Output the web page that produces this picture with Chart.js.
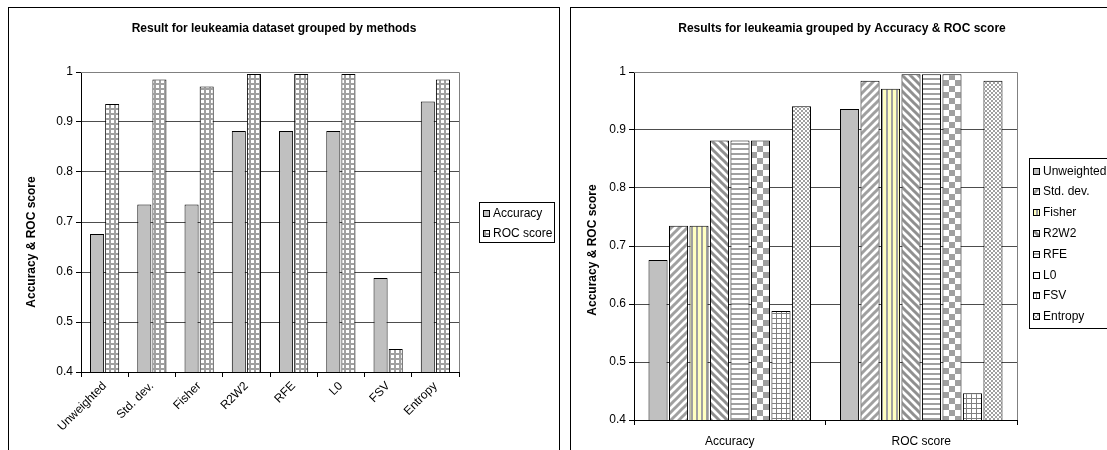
<!DOCTYPE html>
<html>
<head>
<meta charset="utf-8">
<title>Leukeamia results</title>
<script src="https://cdn.jsdelivr.net/npm/chart.js@4.4.0/dist/chart.umd.min.js"></script>
<style>
  body { margin: 0; background: #fff; width: 1107px; height: 450px; overflow: hidden; position: relative; }
  .frame { position: absolute; top: 7px; height: 470px; border: 1px solid #000; background: #fff; overflow: hidden; }
  #leftFrame { left: 8px; width: 550px; }
  #rightFrame { left: 570px; width: 560px; }
  canvas { position: absolute; top: 0; left: 0; }
</style>
</head>
<body>
<div class="frame" id="leftFrame"><canvas id="methodsChart" width="550" height="442"></canvas></div>
<div class="frame" id="rightFrame"><canvas id="measuresChart" width="540" height="442"></canvas></div>

<script>
// === Data ===
const methods = ["Unweighted", "Std. dev.", "Fisher", "R2W2", "RFE", "L0", "FSV", "Entropy"];
const measures = ["Accuracy", "ROC score"];
const accuracy = [0.676, 0.735, 0.735, 0.882, 0.882, 0.882, 0.588, 0.941];
const rocScore = [0.936, 0.985, 0.971, 0.996, 0.996, 0.996, 0.446, 0.985];
const yTicks = [0.4, 0.5, 0.6, 0.7, 0.8, 0.9, 1];
const yTitle = "Accuracy & ROC score";

const FONT = '"Liberation Sans", Arial, sans-serif';
Chart.defaults.font.family = FONT;
Chart.defaults.font.size = 12;
Chart.defaults.color = "#000";

// === Excel-like fill patterns ===
function tile(w, h, draw) {
  const c = document.createElement("canvas");
  c.width = w;
  c.height = h;
  const g = c.getContext("2d");
  draw(g, w, h);
  return g.createPattern(c, "repeat");
}

const GRAY = "#a0a0a0";
const pat = {
  solid: "#c0c0c0",
  grid: tile(5, 5, (g) => {
    g.fillStyle = "#fff"; g.fillRect(0, 0, 5, 5);
    g.fillStyle = GRAY; g.fillRect(0, 0, 5, 2); g.fillRect(0, 0, 2, 5);
  }),
  fineGrid: tile(5, 5, (g) => {
    g.fillStyle = "#fff"; g.fillRect(0, 0, 5, 5);
    g.fillStyle = "#808080"; g.fillRect(0, 0, 5, 1); g.fillRect(0, 0, 1, 5);
  }),
  diagUp: tile(8, 8, (g) => {
    g.fillStyle = "#fff"; g.fillRect(0, 0, 8, 8);
    g.strokeStyle = GRAY; g.lineWidth = 3;
    g.beginPath();
    g.moveTo(-1, 9); g.lineTo(9, -1);
    g.moveTo(-5, 5); g.lineTo(5, -5);
    g.moveTo(3, 13); g.lineTo(13, 3);
    g.stroke();
  }),
  diagDown: tile(8, 8, (g) => {
    g.fillStyle = "#fff"; g.fillRect(0, 0, 8, 8);
    g.strokeStyle = "#909090"; g.lineWidth = 3;
    g.beginPath();
    g.moveTo(-1, -1); g.lineTo(9, 9);
    g.moveTo(-5, 3); g.lineTo(5, 13);
    g.moveTo(3, -5); g.lineTo(13, 5);
    g.stroke();
  }),
  vStripe: tile(5, 5, (g) => {
    g.fillStyle = "#ffffc0"; g.fillRect(0, 0, 5, 5);
    g.fillStyle = GRAY; g.fillRect(0, 0, 2, 5);
  }),
  hStripe: tile(5, 5, (g) => {
    g.fillStyle = "#fff"; g.fillRect(0, 0, 5, 5);
    g.fillStyle = GRAY; g.fillRect(0, 0, 5, 2);
  }),
  checker: tile(12, 12, (g) => {
    g.fillStyle = "#fff"; g.fillRect(0, 0, 12, 12);
    g.fillStyle = GRAY; g.fillRect(0, 0, 6, 6); g.fillRect(6, 6, 6, 6);
  }),
  smallChecker: tile(4, 4, (g) => {
    g.fillStyle = "#fff"; g.fillRect(0, 0, 4, 4);
    g.fillStyle = GRAY; g.fillRect(0, 0, 2, 2); g.fillRect(2, 2, 2, 2);
  }),
};

const methodFills = [pat.solid, pat.diagUp, pat.vStripe, pat.diagDown, pat.hStripe, pat.checker, pat.fineGrid, pat.smallChecker];

// === Shared scale builders ===
function yScale(width) {
  return {
    min: 0.4,
    max: 1,
    afterBuildTicks: (s) => { s.ticks = yTicks.map((v) => ({ value: v })); },
    afterFit: (s) => { s.width = width; },
    ticks: { color: "#000", padding: 3, callback: (v) => String(v) },
    grid: { color: "#4d4d4d", tickColor: "#000", tickLength: 5 },
    border: { display: true, color: "#000" },
  };
}

function xScale(height, rotation, padding) {
  return {
    afterFit: (s) => { s.height = height; },
    grid: { drawOnChartArea: false, offset: true, tickLength: 5, tickColor: "#000" },
    border: { display: true, color: "#000" },
    ticks: { color: "#000", minRotation: rotation, maxRotation: rotation, padding: padding },
  };
}

// === Title, axis title, plot frame and boxed legend ===
function decor(cfg) {
  return {
    id: "decor",
    afterDraw(chart) {
      const ctx = chart.ctx;
      const a = chart.chartArea;
      ctx.save();
      ctx.strokeStyle = "#808080";
      ctx.lineWidth = 1;
      ctx.beginPath();
      ctx.moveTo(Math.round(a.left), Math.round(a.top) + 0.5);
      ctx.lineTo(Math.round(a.right) + 0.5, Math.round(a.top) + 0.5);
      ctx.lineTo(Math.round(a.right) + 0.5, Math.round(a.bottom));
      ctx.stroke();

      ctx.fillStyle = "#000";
      ctx.font = "bold 12px " + FONT;
      ctx.textAlign = "center";
      ctx.textBaseline = "middle";
      ctx.fillText(cfg.title, cfg.titleX, cfg.titleY);

      ctx.save();
      ctx.translate(cfg.yTitleX, cfg.yTitleY);
      ctx.rotate(-Math.PI / 2);
      ctx.fillText(yTitle, 0, 0);
      ctx.restore();

      const L = cfg.legend;
      ctx.fillStyle = "#fff";
      ctx.fillRect(L.x, L.y, L.w, L.h);
      ctx.strokeStyle = "#000";
      ctx.strokeRect(L.x + 0.5, L.y + 0.5, L.w, L.h);
      ctx.font = "12px " + FONT;
      ctx.textAlign = "left";
      chart.data.datasets.forEach((ds, i) => {
        const yy = Math.round(L.row0 + i * L.step);
        ctx.fillStyle = ds.backgroundColor;
        ctx.fillRect(L.x + 4, yy - 3, 7, 7);
        ctx.strokeStyle = "#000";
        ctx.strokeRect(L.x + 4.5, yy - 2.5, 6, 6);
        ctx.fillStyle = "#000";
        ctx.fillText(ds.label, L.x + 14, yy + 1);
      });
      ctx.restore();
    },
  };
}

// === Left: grouped by methods ===
new Chart(document.getElementById("methodsChart"), {
  type: "bar",
  data: {
    labels: methods,
    datasets: [
      { label: measures[0], data: accuracy, backgroundColor: pat.solid },
      { label: measures[1], data: rocScore, backgroundColor: pat.grid },
    ].map((d) => Object.assign(d, { borderColor: "#000", borderWidth: 1, borderSkipped: false })),
  },
  options: {
    responsive: false,
    animation: false,
    devicePixelRatio: 1,
    categoryPercentage: 0.64,
    barPercentage: 0.93,
    layout: { padding: { top: 64, right: 100, left: 0, bottom: 0 } },
    plugins: { legend: { display: false }, tooltip: { enabled: false } },
    scales: { x: xScale(78, 45, 2), y: yScale(72) },
  },
  plugins: [decor({
    title: "Result for leukeamia dataset grouped by methods",
    titleX: 265, titleY: 21,
    yTitleX: 23, yTitleY: 234,
    legend: { x: 470, y: 194, w: 75, h: 40, row0: 205, step: 19.5 },
  })],
});

// === Right: grouped by Accuracy & ROC score ===
new Chart(document.getElementById("measuresChart"), {
  type: "bar",
  data: {
    labels: measures,
    datasets: methods.map((m, i) => ({
      label: m,
      data: [accuracy[i], rocScore[i]],
      backgroundColor: methodFills[i],
      borderColor: "#000",
      borderWidth: 1,
      borderSkipped: false,
    })),
  },
  options: {
    responsive: false,
    animation: false,
    devicePixelRatio: 1,
    categoryPercentage: 0.856,
    barPercentage: 0.93,
    layout: { padding: { top: 64, right: 94, left: 0, bottom: 0 } },
    plugins: { legend: { display: false }, tooltip: { enabled: false } },
    scales: { x: xScale(30, 0, 9), y: yScale(63) },
  },
  plugins: [decor({
    title: "Results for leukeamia grouped by Accuracy & ROC score",
    titleX: 271, titleY: 21,
    yTitleX: 22, yTitleY: 242,
    legend: { x: 458, y: 150, w: 120, h: 170, row0: 162.5, step: 20.8 },
  })],
});
</script>
</body>
</html>
